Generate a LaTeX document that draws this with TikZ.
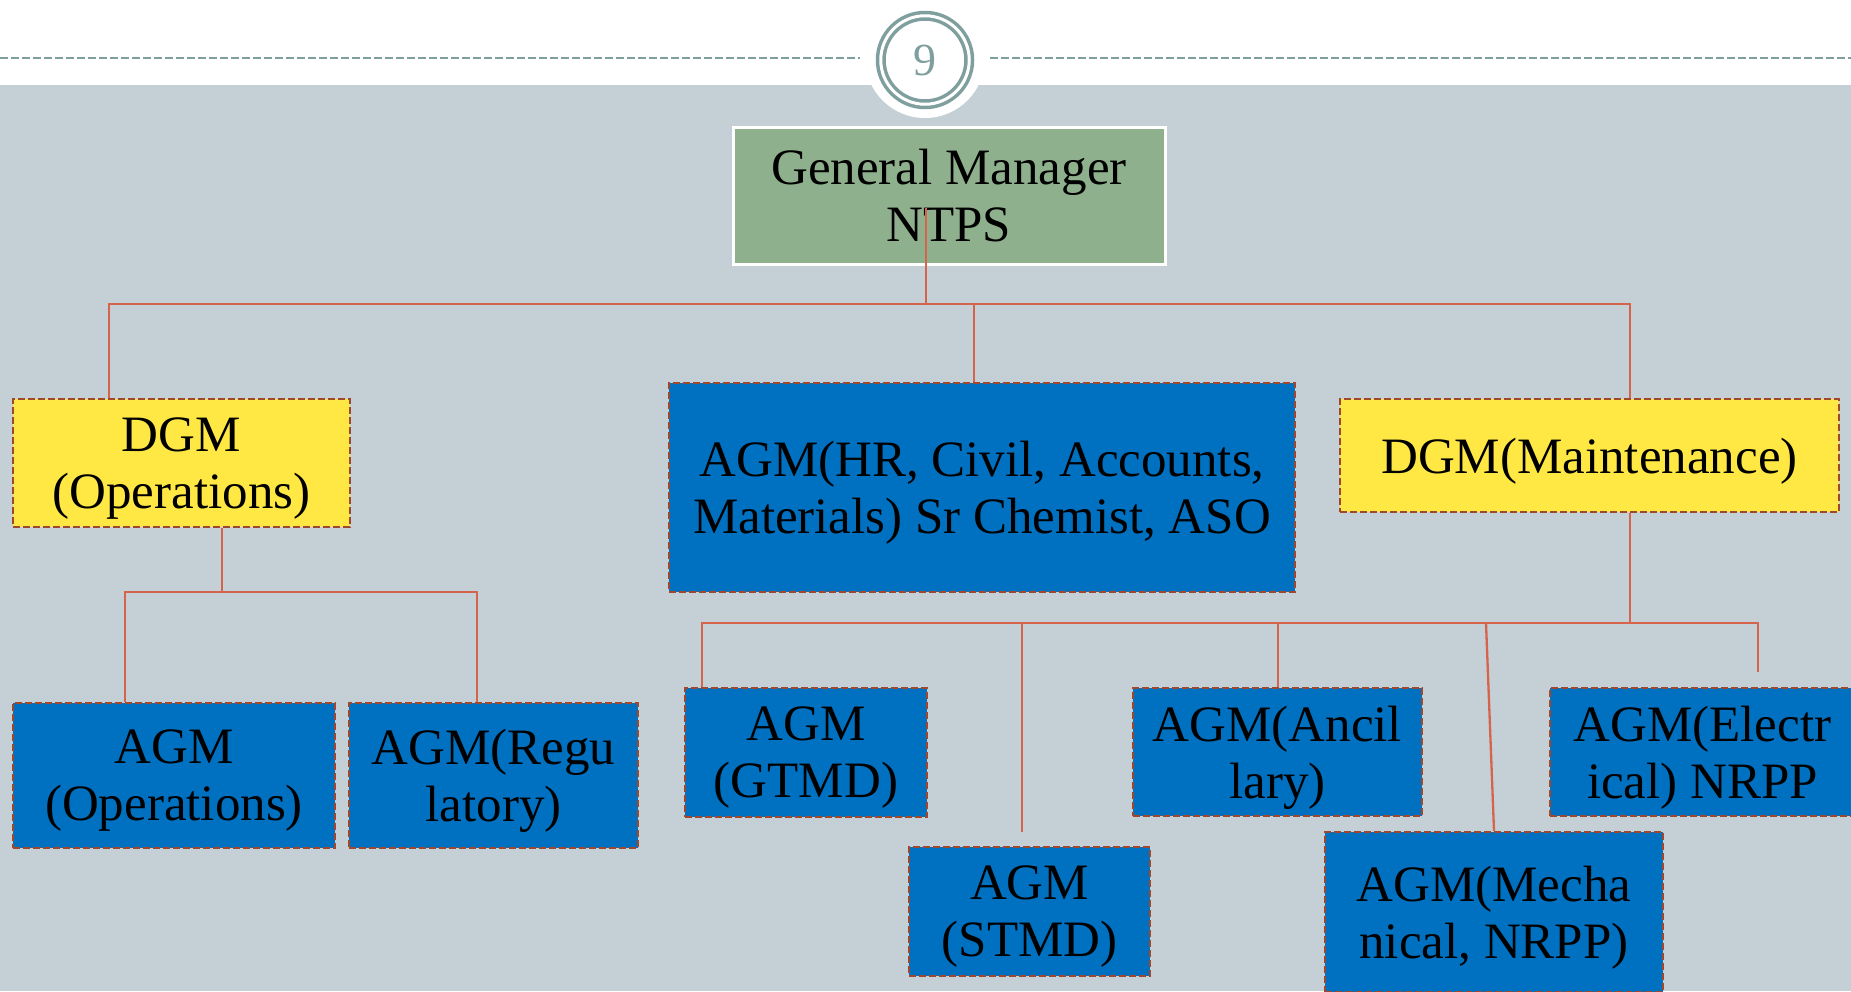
\documentclass[tikz,border=0pt]{standalone}
\usepackage{fontspec}
\setmainfont{Liberation Serif}
\usetikzlibrary{calc}
\definecolor{bgc}{RGB}{197,208,214}
\definecolor{tealnine}{RGB}{127,159,158}
\definecolor{gmgreen}{RGB}{143,176,140}
\definecolor{dgmyellow}{RGB}{255,232,67}
\definecolor{agmblue}{RGB}{0,112,192}
\definecolor{brd}{RGB}{160,72,46}
\definecolor{conncol}{RGB}{214,100,76}
\begin{document}
\begin{tikzpicture}[x=0.5pt,y=-0.5pt,
 box/.style={rectangle, inner sep=0pt, align=center, font=\fontsize{25.5pt}{28.5pt}\selectfont, text=black},
 gmbox/.style={box, fill=gmgreen, draw=white, line width=1.5pt},
 ybox/.style={box, text depth=-1pt, fill=dgmyellow, draw=brd, line width=1pt, dash pattern=on 3.5pt off 1.5pt},
 agmbox/.style={box, text depth=-1pt, fill=agmblue, draw=brd, line width=1pt, dash pattern=on 3.5pt off 1.5pt},
 conn/.style={draw=conncol, line width=1.15pt},
 hdash/.style={draw=tealnine, line width=1pt, dash pattern=on 4pt off 1.5pt},
]
\path[use as bounding box] (0,0) rectangle (1851,991);
\clip (0,0) rectangle (1851,991);
% background and header
\fill[white] (0,0) rectangle (1851,85);
\fill[bgc] (0,85) rectangle (1851,991);
\fill[white] (925,58) circle (30pt);
\draw[hdash] (0,58) -- (860,58);
\draw[hdash] (990,58) -- (1851,58);
\node[circle, draw=tealnine, double=white, double distance=1.5pt, line width=1.75pt,
      minimum size=44.25pt, inner sep=0pt, text=tealnine,
      font=\fontsize{23pt}{23pt}\selectfont] (pg) at (925,60) {9};

% boxes
\node[gmbox, minimum width=216pt, minimum height=68.5pt] (gm) at (949,195.5) {General Manager\\NTPS};
\node[ybox, minimum width=168.5pt, minimum height=64pt] (dgmo) at (181.5,463) {DGM\\(Operations)};
\node[agmbox, minimum width=313pt, minimum height=104.5pt] (hr) at (982,487.5) {AGM(HR, Civil, Accounts,\\Materials) Sr Chemist, ASO};
\node[ybox, minimum width=249.5pt, minimum height=56.5pt] (dgmm) at (1589.5,455.5) {DGM(Maintenance)};
\node[agmbox, minimum width=161pt, minimum height=72.5pt] (agmo) at (174,775.5) {AGM\\(Operations)};
\node[agmbox, minimum width=144.5pt, minimum height=72.5pt] (agmr) at (493.5,775.5) {AGM(Regu\\latory)};
\node[agmbox, minimum width=121pt, minimum height=64.5pt] (gtmd) at (806,752.5) {AGM\\(GTMD)};
\node[agmbox, minimum width=120.5pt, minimum height=64.5pt] (stmd) at (1029.5,911.5) {AGM\\(STMD)};
\node[agmbox, minimum width=144.5pt, minimum height=64pt] (anc) at (1277.5,752) {AGM(Ancil\\lary)};
\node[agmbox, minimum width=152.5pt, minimum height=64pt] (elec) at (1702.5,752) {AGM(Electr\\ical) NRPP};
\node[agmbox, minimum width=169pt, minimum height=80pt] (mech) at (1494,912) {AGM(Mecha\\nical, NRPP)};

% top bus
\coordinate (b1) at (109,304);
\coordinate (b2) at (1630,304);
\coordinate (bg) at (926,304);
\coordinate (bh) at (974,304);
\draw[conn] (b1 |- dgmo.north) -- (b1) -- (b2) -- (b2 |- dgmm.north);
\draw[conn] ($(gm.center)+(-23,12.5)$) -- (bg);
\draw[conn] (bh) -- (bh |- hr.north);

% left lower bus
\coordinate (l0) at (222,592);
\coordinate (l1) at (125,592);
\coordinate (l2) at (477,592);
\draw[conn] (l0 |- dgmo.south) -- (l0);
\draw[conn] (l1 |- agmo.north) -- (l1) -- (l2) -- (l2 |- agmr.north);

% right lower bus
\coordinate (r0) at (1630,623);
\coordinate (r1) at (702,623);
\coordinate (r2) at (1758,623);
\coordinate (rs) at (1022,623);
\coordinate (ra) at (1278,623);
\coordinate (rm) at (1486,623);
\coordinate (se) at (1022,832);
\coordinate (ee) at (1758,672);
\draw[conn] (r0 |- dgmm.south) -- (r0);
\draw[conn] (r1 |- gtmd.north) -- (r1) -- (r2) -- (ee);
\draw[conn] (rs) -- (se);
\draw[conn] (ra) -- (ra |- anc.north);
\draw[conn] (rm) -- (mech.north);
\end{tikzpicture}
\end{document}
